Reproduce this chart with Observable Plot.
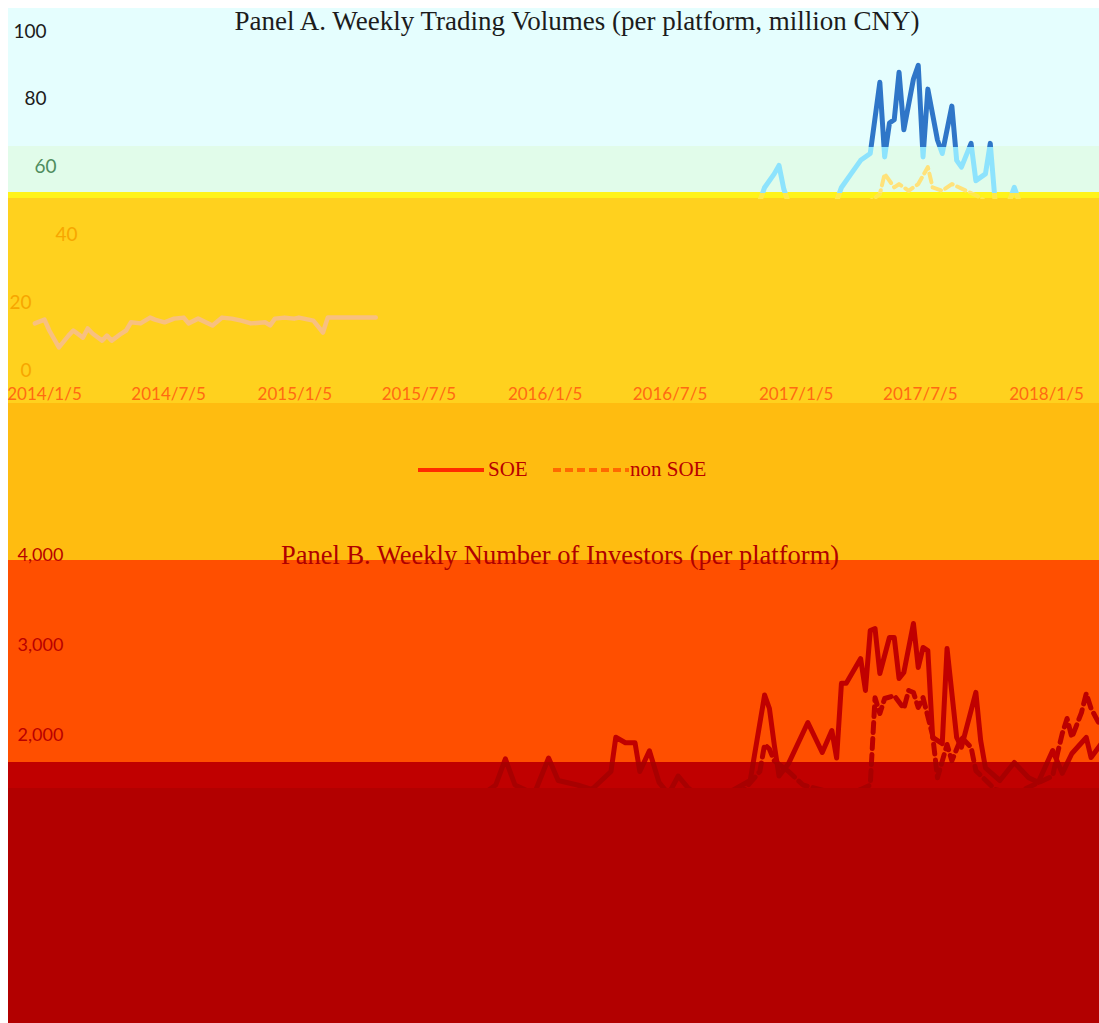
<!DOCTYPE html>
<html><head><meta charset="utf-8">
<script src="https://cdn.jsdelivr.net/npm/d3@7"></script>
<script src="https://cdn.jsdelivr.net/npm/@observablehq/plot@0.6"></script>
<style>
html,body{margin:0;padding:0;background:#fff;}
body{width:1099px;height:1023px;position:relative;overflow:hidden;}
#bg{position:absolute;left:8px;top:8px;width:1091px;height:1015px;
background:linear-gradient(to bottom,#e5fefe 0px,#e5fefe 138.5px,#e1fcea 138.5px,#e1fcea 184px,#fff31a 184px,#fff31a 190px,#ffd11e 190px,#ffd11e 395px,#ffbc10 395px,#ffbc10 552px,#ff4f00 552px,#ff4f00 754px,#c00000 754px,#c00000 780px,#b20000 780px,#b20000 1015px);}
#pa{position:absolute;left:8px;top:8px;}
#pb{position:absolute;left:8px;top:530px;}
.title{position:absolute;font-family:"Liberation Serif","Times New Roman",serif;white-space:nowrap;transform:translateX(-50%);line-height:1;}
.leg{position:absolute;font-family:"Liberation Serif","Times New Roman",serif;font-size:21px;line-height:1;color:#b80000;white-space:nowrap;}
.sw{position:absolute;}
</style>
</head><body>
<div id="bg"></div>
<div id="pa"></div>
<div id="pb"></div>
<div class="title" style="left:577px;top:8px;font-size:27px;color:#1c1c1c;">Panel A. Weekly Trading Volumes (per platform, million CNY)</div>
<svg class="sw" style="left:418px;top:466px" width="66" height="8"><line x1="0" x2="66" y1="4" y2="4" stroke="#ff2a00" stroke-width="4"/></svg>
<div class="leg" style="left:488px;top:459px;">SOE</div>
<svg class="sw" style="left:553px;top:466px" width="76" height="8"><line x1="0" x2="76" y1="4" y2="4" stroke="#ff6a00" stroke-width="4" stroke-dasharray="8,4"/></svg>
<div class="leg" style="left:630px;top:459px;">non SOE</div>
<div class="title" style="left:560px;top:542px;font-size:26.5px;color:#b00000;">Panel B. Weekly Number of Investors (per platform)</div>
<script>
// ---------- data ----------
const xTickDates = ["2014-01-05","2014-07-05","2015-01-05","2015-07-05","2016-01-05","2016-07-05","2017-01-05","2017-07-05","2018-01-05"];
const yTicksVolume = [0,20,40,60,80,100];
const yTicksInvestors = [0,1000,2000,3000,4000];

const soeVolumeDates = ["2013-12-22","2014-01-05","2014-01-12","2014-01-26","2014-02-09","2014-02-16","2014-03-02","2014-03-09","2014-03-16","2014-03-30","2014-04-06","2014-04-13","2014-04-27","2014-05-04","2014-05-11","2014-05-25","2014-06-08","2014-06-15","2014-06-29","2014-07-13","2014-07-27","2014-08-03","2014-08-17","2014-09-07","2014-09-21","2014-10-05","2014-10-19","2014-11-02","2014-11-23","2014-11-30","2014-12-07","2014-12-21","2015-01-04","2015-01-11","2015-02-01","2015-02-15","2015-02-22","2015-03-29","2015-05-03",
"2016-10-23","2016-11-06","2016-11-20","2016-12-04","2016-12-11","2016-12-18","2017-01-01","2017-01-29","2017-02-19","2017-03-05","2017-03-12","2017-03-26","2017-04-09","2017-04-23","2017-05-07","2017-05-14","2017-05-21","2017-05-28","2017-06-04","2017-06-11","2017-06-25","2017-07-02","2017-07-09","2017-07-16","2017-07-30","2017-08-06","2017-08-20","2017-08-27","2017-09-03","2017-09-17","2017-09-24","2017-10-08","2017-10-15","2017-10-22","2017-11-05","2017-11-19","2017-12-03","2018-01-14","2018-03-25"];
const soeVolumeValues = [13.9,15.0,11.8,6.8,10.3,11.8,9.7,12.4,10.9,8.8,10.3,8.8,10.9,11.8,14.2,13.9,15.6,15.0,14.2,15.3,15.6,13.9,15.3,13.3,15.6,15.3,14.7,13.9,14.2,13.3,15.3,15.6,15.3,15.6,14.7,11.2,15.6,15.6,15.6,
42,46,54,58,60.5,53.5,45,41,45,50,54,58,62,64,85,63,73,74,88,71,86,90,63,83,68,64,78,62,60,67,56,58,67,50,46,54,46,42,44];

const nonSoeVolumeDates = ["2016-10-23","2016-11-20","2017-01-29","2017-03-05","2017-04-09","2017-05-07","2017-05-14","2017-05-28","2017-06-04","2017-06-18","2017-07-02","2017-07-16","2017-07-23","2017-08-06","2017-08-20","2017-09-10","2017-10-01","2017-11-05","2018-01-14","2018-03-25"];
const nonSoeVolumeValues = [40,44,44,46,48,52,58,54,55,53,55,60,54,53,55,53,51,45,44,46];

const soeInvestorDates = ["2015-09-27","2015-10-25","2015-11-08","2015-11-22","2015-12-20","2016-01-10","2016-01-24","2016-02-21","2016-03-13","2016-04-10","2016-04-17","2016-05-01","2016-05-15","2016-05-22","2016-06-05","2016-06-19","2016-07-03","2016-07-17","2016-07-31","2016-08-21","2016-09-25","2016-10-30","2016-11-20","2016-11-27","2016-12-04","2016-12-11","2016-12-25","2017-01-22","2017-02-12","2017-02-26","2017-03-05","2017-03-12","2017-03-19","2017-04-09","2017-04-16","2017-04-23","2017-04-30","2017-05-07","2017-05-21","2017-05-28","2017-06-04","2017-06-11","2017-06-25","2017-07-02","2017-07-09","2017-07-16","2017-07-23","2017-08-06","2017-08-13","2017-08-27","2017-09-03","2017-09-24","2017-10-01","2017-10-08","2017-10-29","2017-11-19","2017-12-10","2017-12-24","2018-01-14","2018-01-28","2018-02-11","2018-03-04","2018-03-11","2018-03-25"];
const soeInvestorValues = [1300,1450,1740,1450,1350,1750,1500,1450,1400,1600,1980,1920,1920,1600,1830,1480,1350,1550,1420,1300,1350,1500,2450,2300,1900,1550,1690,2144,1811,2055,1750,2580,2580,2855,2500,3167,3189,2689,3089,3089,2633,2700,3244,2756,2978,2944,1980,1910,2967,1978,1870,2480,1944,1640,1500,1700,1530,1480,1833,1580,1800,1978,1755,1900];

const nonSoeInvestorDates = ["2016-09-18","2016-10-16","2016-11-13","2016-11-20","2016-11-27","2016-12-04","2016-12-25","2017-01-15","2017-03-05","2017-04-09","2017-04-23","2017-04-30","2017-05-07","2017-05-14","2017-05-28","2017-06-11","2017-06-18","2017-06-25","2017-07-02","2017-07-09","2017-07-23","2017-07-30","2017-08-13","2017-08-20","2017-09-03","2017-09-17","2017-09-24","2017-10-22","2017-11-19","2017-12-17","2018-01-14","2018-01-21","2018-01-28","2018-02-04","2018-02-11","2018-02-25","2018-03-04","2018-03-11","2018-03-25"];
const nonSoeInvestorValues = [1300,1350,1600,1900,1850,1720,1600,1450,1350,1400,1450,2420,2244,2411,2444,2300,2500,2478,2311,2422,2000,1530,1900,1720,1980,1870,1610,1400,1350,1450,1550,1800,2022,2189,1978,2255,2467,2300,2100];

const highlightEnd = "2015-05-03";

// ---------- build ----------
const parse = d3.utcParse("%Y-%m-%d");
const rows = (ds, vs) => ds.map((d, i) => ({date: parse(d), v: vs[i]}));
const soeA = rows(soeVolumeDates, soeVolumeValues);
const nonA = rows(nonSoeVolumeDates, nonSoeVolumeValues);
const soeB = rows(soeInvestorDates, soeInvestorValues);
const nonB = rows(nonSoeInvestorDates, nonSoeInvestorValues);
const hiEnd = parse(highlightEnd);

function grad(id, H, bands) {
  let s = `<linearGradient id="${id}" gradientUnits="userSpaceOnUse" x1="0" y1="0" x2="0" y2="${H}">`;
  bands.forEach(([y, c], i) => {
    const y1 = i + 1 < bands.length ? bands[i + 1][0] : H;
    s += `<stop offset="${y / H}" stop-color="${c}"/><stop offset="${y1 / H}" stop-color="${c}"/>`;
  });
  return s + "</linearGradient>";
}
const HA = 400, HB = 493;
document.body.insertAdjacentHTML("afterbegin",
  `<svg width="0" height="0" style="position:absolute;left:0;top:0"><defs>` +
  grad("gSA", HA, [[0,"#2f76c8"],[138.5,"#8de3fd"],[184,"#ffe84a"],[190,"#ffd11e"]]) +
  grad("gNA", HA, [[0,"#2f76c8"],[138.5,"#ffe27a"],[184,"#ffe84a"],[190,"#ffd11e"]]) +
  grad("gSB", HB, [[0,"#c00000"],[232,"#a80000"],[258,"#b20000"]]) +
  grad("gNB", HB, [[0,"#bc0000"],[232,"#a80000"],[258,"#b20000"]]) +
  `</defs></svg>`);

const xScale = {type: "utc", domain: [parse("2014-01-05"), parse("2018-01-05")], range: [36, 1038]};
const fmtDate = d3.utcFormat("%Y/%-m/%-d");
const xTicks = xTickDates.map(parse);
const fmtInv = d3.format(",");

const plotA = Plot.plot({
  width: 1091, height: HA, marginTop: 23, marginBottom: 38, marginLeft: 38, marginRight: 0,
  style: {background: "transparent", fontFamily: "Lato, sans-serif", fontSize: "19px"},
  x: xScale,
  y: {domain: [0, 100], label: null},
  marks: [
    Plot.axisY({ticks: yTicksVolume.filter(t => t >= 80), tickSize: 0, tickPadding: 0, fill: "#1c1c1c", label: null}),
    Plot.axisY({ticks: yTicksVolume.filter(t => t === 60), tickSize: 0, tickPadding: 0, dx: 10, fill: "#4f8d5e", label: null}),
    Plot.axisY({ticks: yTicksVolume.filter(t => t === 40), tickSize: 0, tickPadding: 0, dx: 31, fill: "#f7a600", label: null}),
    Plot.axisY({ticks: yTicksVolume.filter(t => t <= 20), tickSize: 0, tickPadding: 0, dx: -15, fill: "#f7a600", label: null}),
    Plot.axisX({ticks: xTicks, tickFormat: fmtDate, tickSize: 0, tickPadding: 17, fontSize: 17, fill: "#ff6a12", label: null}),
    Plot.line(nonA, {x: "date", y: "v", stroke: "url(#gNA)", strokeWidth: 4, strokeDasharray: "9,5"}),
    Plot.line(soeA, {x: "date", y: "v", stroke: "url(#gSA)", strokeWidth: 5, strokeLinejoin: "round", strokeLinecap: "round"}),
    Plot.line(soeA.filter(d => d.date <= hiEnd), {x: "date", y: "v", stroke: "#f8c080", strokeWidth: 4.5, strokeLinejoin: "round"})
  ]
});
document.getElementById("pa").appendChild(plotA);

const plotB = Plot.plot({
  width: 1091, height: HB, marginTop: 25, marginBottom: 108, marginLeft: 40, marginRight: 0,
  style: {background: "transparent", fontFamily: "Lato, sans-serif", fontSize: "18px"},
  x: xScale,
  y: {domain: [0, 4000], label: null},
  marks: [
    Plot.axisY({ticks: yTicksInvestors.filter(t => t >= 2000), tickFormat: fmtInv, tickSize: 0, tickPadding: 31, textAnchor: "start", fill: "#b80000", label: null}),
    Plot.axisY({ticks: yTicksInvestors.filter(t => t < 2000), tickFormat: fmtInv, tickSize: 0, tickPadding: 31, textAnchor: "start", fill: "#b20000", label: null}),
    Plot.axisX({ticks: xTicks, tickFormat: fmtDate, tickSize: 0, tickPadding: 17, fontSize: 17, fill: "#b20000", label: null}),
    Plot.line(nonB, {x: "date", y: "v", stroke: "url(#gNB)", strokeWidth: 5, strokeDasharray: "10,6"}),
    Plot.line(soeB, {x: "date", y: "v", stroke: "url(#gSB)", strokeWidth: 5, strokeLinejoin: "round", strokeLinecap: "round"})
  ]
});
document.getElementById("pb").appendChild(plotB);
</script>
</body></html>
